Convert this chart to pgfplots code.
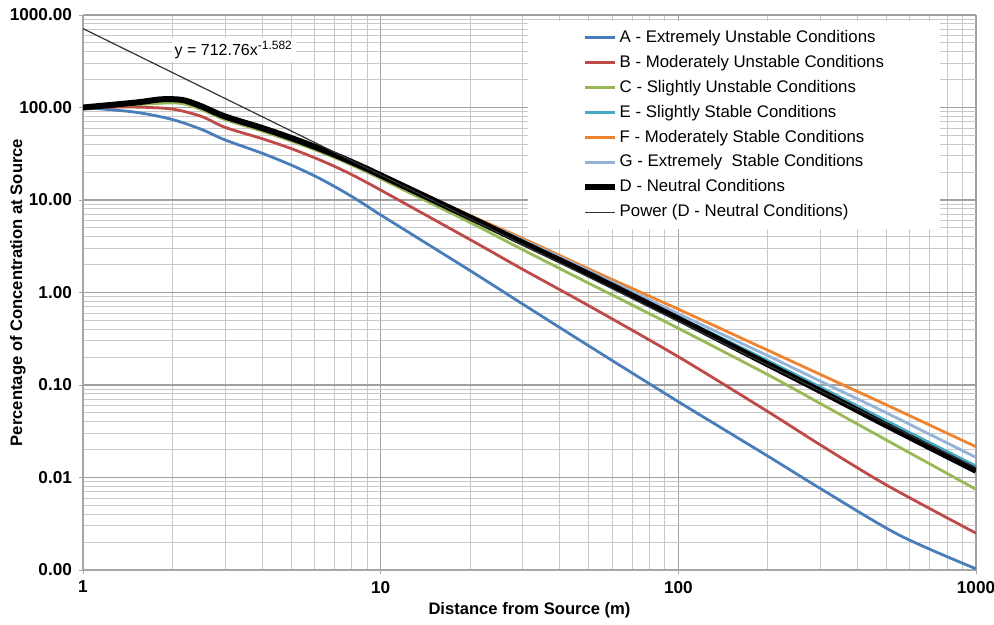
\documentclass[border=0pt]{standalone}
\usepackage{fontspec}
\setmainfont{Liberation Sans}
\usepackage{pgfplots}
\pgfplotsset{compat=1.18}
\definecolor{clrA}{RGB}{74,126,187}
\definecolor{clrB}{RGB}{190,75,72}
\definecolor{clrC}{RGB}{152,185,84}
\definecolor{clrE}{RGB}{70,170,197}
\definecolor{clrF}{RGB}{238,132,48}
\definecolor{clrG}{RGB}{149,179,215}
\definecolor{gridc}{RGB}{200,200,200}
\begin{document}
\begin{tikzpicture}
\begin{axis}[
  scale only axis,
  width=446.5pt, height=277.5pt,
  xmode=log, ymode=log,
  xmin=1, xmax=1000, ymin=0.001, ymax=1000,
  xtick={1,10,100,1000}, xticklabels={1,10,100,1000},
  ytick={0.001,0.01,0.1,1,10,100,1000},
  yticklabels={0.00,0.01,0.10,1.00,10.00,100.00,1000.00},
  minor xtick={2,3,4,5,6,7,8,9,20,30,40,50,60,70,80,90,200,300,400,500,600,700,800,900},
  minor ytick={0.002,0.003,0.004,0.005,0.006,0.007,0.008,0.009,
    0.02,0.03,0.04,0.05,0.06,0.07,0.08,0.09,0.2,0.3,0.4,0.5,0.6,0.7,0.8,0.9,
    2,3,4,5,6,7,8,9,20,30,40,50,60,70,80,90,200,300,400,500,600,700,800,900},
  grid=both,
  major grid style={draw=gridc!80!black, line width=0.7pt},
  minor grid style={draw=gridc, line width=0.5pt},
  axis lines=left,
  axis line style={-, draw=gray!70, line width=0.7pt},
  tick style={draw=gray!70}, tick align=outside,
  major tick length=2pt, minor tick length=0pt,
  tick label style={font=\fontsize{8.6}{10}\selectfont\bfseries},
  xlabel={Distance from Source (m)},
  ylabel={Percentage of Concentration at Source},
  xlabel style={at={(axis description cs:0.5,-0.072)}, anchor=center,
    font=\fontsize{8.3}{10}\selectfont\bfseries},
  ylabel style={at={(axis description cs:-0.073,0.5)}, anchor=center,
    font=\fontsize{8.3}{10}\selectfont\bfseries},
  legend cell align=left,
  legend image code/.code={\draw[#1] (0pt,0pt) -- (15pt,0pt);},
  legend style={at={(0.498,0.99)}, anchor=north west, draw=none, fill=white,
    font=\fontsize{8.4}{10}\selectfont, inner xsep=27pt, inner ysep=2.5pt, row sep=0.9pt,
    nodes={inner xsep=0.8pt}},
]
% A - extremely unstable
\addplot[color=clrA, line width=1.4pt, smooth] coordinates {
  (1,100)(1.5,89)(2,74)(2.5,58)(3,44.6)(4,32)(5,23.9)(6,18.2)(7,14.0)(8,10.9)(9,8.6)(10,6.9)
  (20,1.72)(30,0.75)(50,0.265)(100,0.066)(200,0.0170)(300,0.0076)(550,0.0024)(1000,0.00103)
};
\addlegendentry{A - Extremely Unstable Conditions}
% B - moderately unstable
\addplot[color=clrB, line width=1.4pt, smooth] coordinates {
  (1,100)(1.5,101)(2,96)(2.5,80)(3,61)(4,46.0)(5,36.0)(6,28.6)(7,23.1)(8,18.8)(9,15.4)(10,12.8)
  (20,3.72)(30,1.78)(50,0.72)(100,0.202)(200,0.0515)(300,0.0225)(500,0.0083)(1000,0.0025)
};
\addlegendentry{B - Moderately Unstable Conditions}
% C - slightly unstable
\addplot[color=clrC, line width=1.4pt, smooth] coordinates {
  (1,100)(1.5,107)(1.8,111)(2,112)(2.2,109)(2.5,95)(3,74)(4,55.5)(5,43.4)(6,35.0)(7,28.7)(8,23.8)(9,20.0)(10,17.0)
  (20,5.7)(30,2.9)(50,1.26)(100,0.41)(200,0.129)(300,0.063)(500,0.0254)(1000,0.00745)
};
\addlegendentry{C - Slightly Unstable Conditions}
% E - slightly stable
\addplot[color=clrE, line width=1.4pt, smooth] coordinates {
  (1,100)(1.5,113)(1.8,122)(2,123)(2.2,119)(2.5,103)(3,80)(4,60)(5,46.9)(6,37.7)(7,30.9)(8,25.7)(9,21.8)(10,18.7)
  (20,6.55)(30,3.55)(50,1.65)(100,0.545)(200,0.183)(300,0.095)(500,0.041)(1000,0.0133)
};
\addlegendentry{E - Slightly Stable Conditions}
% F - moderately stable
\addplot[color=clrF, line width=1.4pt, smooth] coordinates {
  (1,100)(1.5,113)(1.8,122)(2,123)(2.2,119)(2.5,103)(3,80)(4,60)(5,46.9)(6,37.7)(7,30.9)(8,25.8)(9,22.0)(10,19.0)
  (20,6.8)(30,3.85)(50,1.80)(100,0.66)(200,0.237)(300,0.130)(500,0.061)(1000,0.0215)
};
\addlegendentry{F - Moderately Stable Conditions}
% G - extremely stable
\addplot[color=clrG, line width=1.4pt, smooth] coordinates {
  (1,100)(1.5,113)(1.8,122)(2,123)(2.2,119)(2.5,103)(3,80)(4,60)(5,46.9)(6,37.7)(7,30.9)(8,25.7)(9,21.9)(10,18.9)
  (20,6.65)(30,3.7)(50,1.72)(100,0.59)(200,0.207)(300,0.110)(500,0.050)(1000,0.0165)
};
\addlegendentry{G - Extremely\ \ Stable Conditions}
% D - neutral
\addplot[color=black, line width=3pt, smooth] coordinates {
  (1,100)(1.5,113)(1.8,122)(2,123)(2.2,119)(2.5,103)(3,80)(4,60)(5,46.9)(6,37.7)(7,30.9)(8,25.7)(9,21.7)(10,18.5)
  (20,6.45)(30,3.45)(50,1.58)(100,0.52)(200,0.167)(300,0.086)(500,0.0366)(1000,0.0118)
};
\addlegendentry{D - Neutral Conditions}
% power trend line
\addplot[color=black!80, line width=0.6pt] coordinates {
  (1,712.76)(10,18.66)(100,0.489)(1000,0.0128)
};
\addlegendentry{Power (D - Neutral Conditions)}
\node[fill=white, inner sep=1.5pt, font=\fontsize{8}{9}\selectfont, anchor=west]
  at (axis cs:1.98,420) {y = 712.76x\textsuperscript{-1.582}};
\end{axis}
\pgfresetboundingbox
\path[use as bounding box] (-41.5pt,-27.5pt) rectangle (455.5pt,285pt);
\end{tikzpicture}
\end{document}
